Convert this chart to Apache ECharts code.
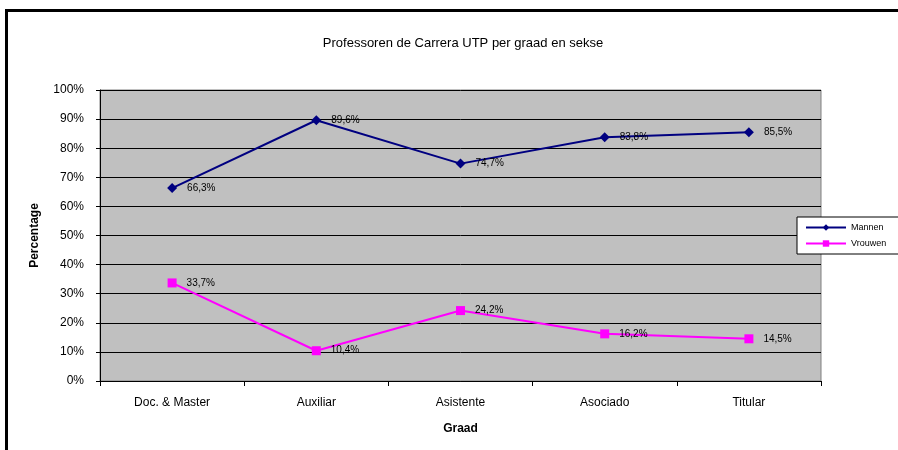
<!DOCTYPE html>
<html>
  <head>
    <meta charset="utf-8" />
    <title>ECharts</title>
    <script src="https://cdn.jsdelivr.net/npm/echarts@6/dist/echarts.min.js"></script>
    <style>
      body { margin: 0; background: #fff; }
      #frame { position: absolute; left: 5px; top: 9px; width: 900px; height: 460px;
               border-left: 3px solid #000; border-top: 3px solid #000; }
    </style>
  </head>
  <body>
    <div id="frame"></div>
    <div id="main" style="position:absolute;left:0;top:0;width: 898px;height:450px;"></div>
    <script type="text/javascript">
      var categories = ['Doc. & Master', 'Auxiliar', 'Asistente', 'Asociado', 'Titular'];
      var mannen = [66.3, 89.6, 74.7, 83.8, 85.5];
      var vrouwen = [33.7, 10.4, 24.2, 16.2, 14.5];
      var yTicks = [0, 10, 20, 30, 40, 50, 60, 70, 80, 90, 100];

      var myChart = echarts.init(document.getElementById('main'));

      function pct(v) { return v.toFixed(1).replace('.', ',') + '%'; }

      var labelStyle = {
        show: true,
        position: 'right',
        distance: 10,
        fontFamily: 'Liberation Sans',
        fontSize: 10,
        color: '#000',
        formatter: function (p) { return pct(p.value); }
      };

      myChart.setOption({
        animation: false,
        textStyle: { fontFamily: 'Liberation Sans' },
        title: {
          text: 'Professoren de Carrera UTP per graad en sekse',
          left: 458,
          top: 32,
          textAlign: 'center',
          textStyle: { fontSize: 13, fontWeight: 'normal', color: '#000' }
        },
        legend: {
          orient: 'vertical',
          left: 797,
          top: 217,
          itemWidth: 40,
          itemHeight: 8,
          itemGap: 7,
          padding: [6, 20, 6, 8],
          backgroundColor: '#fff',
          borderColor: '#000',
          borderWidth: 1,
          textStyle: { fontSize: 9, color: '#000' },
          data: ['Mannen', 'Vrouwen']
        },
        grid: {
          left: 100,
          top: 90,
          width: 721,
          height: 291,
          show: true,
          backgroundColor: '#c0c0c0',
          borderColor: '#808080',
          borderWidth: 1
        },
        xAxis: {
          type: 'category',
          data: categories,
          boundaryGap: true,
          name: 'Graad',
          nameLocation: 'middle',
          nameGap: 42,
          nameTextStyle: { fontSize: 12, fontWeight: 'bold', color: '#000' },
          axisLine: { lineStyle: { color: '#000', width: 1 } },
          axisTick: { show: true, length: 5, lineStyle: { color: '#000' } },
          axisLabel: { color: '#000', fontSize: 12, margin: 16 }
        },
        yAxis: {
          type: 'value',
          min: yTicks[0],
          max: yTicks[yTicks.length - 1],
          interval: 10,
          name: 'Percentage',
          nameLocation: 'middle',
          nameGap: 59,
          nameTextStyle: { fontSize: 12, fontWeight: 'bold', color: '#000' },
          axisLine: { show: true, lineStyle: { color: '#000' } },
          axisTick: { show: true, length: 4, lineStyle: { color: '#000' } },
          axisLabel: { color: '#000', fontSize: 12, margin: 16, formatter: '{value}%' },
          splitLine: { show: true, lineStyle: { color: '#000', width: 1 } }
        },
        series: [
          {
            name: 'Mannen',
            type: 'line',
            data: mannen,
            symbol: 'diamond',
            symbolSize: 10,
            color: '#000080',
            lineStyle: { color: '#000080', width: 2 },
            itemStyle: { color: '#000080' },
            label: labelStyle
          },
          {
            name: 'Vrouwen',
            type: 'line',
            data: vrouwen,
            symbol: 'rect',
            symbolSize: 9,
            color: '#ff00ff',
            lineStyle: { color: '#ff00ff', width: 2 },
            itemStyle: { color: '#ff00ff' },
            label: labelStyle
          }
        ]
      });
    </script>
  </body>
</html>
